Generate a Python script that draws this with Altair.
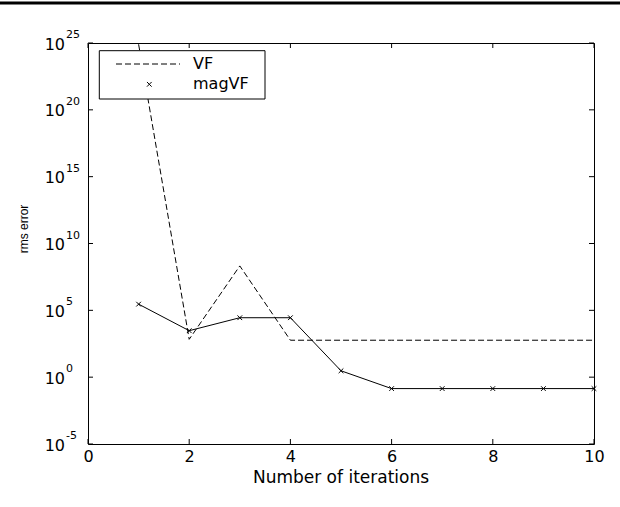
import altair as alt
import pandas as pd

# ---- data ----
iterations = [1, 2, 3, 4, 5, 6, 7, 8, 9, 10]
vf_error = [8e24, 6.8e2, 2.1e8, 5.8e2, 5.8e2, 5.8e2, 5.8e2, 5.8e2, 5.8e2, 5.8e2]
magvf_error = [2.9e5, 3.0e3, 2.8e4, 2.8e4, 3.0, 0.14, 0.14, 0.14, 0.14, 0.14]
x_ticks = [0, 2, 4, 6, 8, 10]
y_ticks = [1e-5, 1e0, 1e5, 1e10, 1e15, 1e20, 1e25]
y_exponents = ["-5", "0", "5", "10", "15", "20", "25"]
series_names = ["VF", "magVF"]
x_title = "Number of iterations"
y_title = "rms error"

W, H = 506, 401
FONT = "DejaVu Sans"

xs = alt.Scale(domain=[0, 10], nice=False, zero=False)
ys = alt.Scale(type="log", domain=[1e-5, 1e25], nice=False)

X = alt.X("x:Q", scale=xs, axis=alt.Axis(values=x_ticks, domain=False, ticks=False, grid=False,
                                          labelFont=FONT, labelFontSize=16, labelColor="black",
                                          labelPadding=4, labelFlush=False, labelOverlap=False,
                                          title=None))
Y = alt.Y("y:Q", scale=ys, axis=None)

vf_df = pd.DataFrame({"x": iterations, "y": vf_error})
mag_df = pd.DataFrame({"x": iterations, "y": magvf_error})
xt_df = pd.DataFrame({"x": x_ticks})
yt_df = pd.DataFrame({"y": y_ticks, "exp": y_exponents, "base": ["10"] * len(y_ticks)})
one = pd.DataFrame({"a": [0]})

XSHAPE = "M-1,-1L1,1M-1,1L1,-1"

vf_line = alt.Chart(vf_df).mark_line(color="black", strokeWidth=1, strokeDash=[6, 3]).encode(X, Y)
mag_line = alt.Chart(mag_df).mark_line(color="black", strokeWidth=1).encode(X, Y)
mag_pts = alt.Chart(mag_df).mark_point(shape=XSHAPE, size=22, filled=False, color="black",
                                       strokeWidth=1, opacity=1).encode(X, Y)

tick_b = alt.Chart(xt_df).mark_rule(color="black", strokeWidth=1).encode(
    X, y=alt.value(H), y2=alt.value(H - 5))
tick_t = alt.Chart(xt_df).mark_rule(color="black", strokeWidth=1).encode(
    X, y=alt.value(0), y2=alt.value(5))
tick_l = alt.Chart(yt_df).mark_rule(color="black", strokeWidth=1).encode(
    Y, x=alt.value(0), x2=alt.value(5))
tick_r = alt.Chart(yt_df).mark_rule(color="black", strokeWidth=1).encode(
    Y, x=alt.value(W), x2=alt.value(W - 5))

ylab = alt.Chart(yt_df).mark_text(align="right", baseline="alphabetic", dy=6.5, font=FONT,
                                  fontSize=16, color="black").encode(
    Y, x=alt.value(-23), text="base:N")
yexp = alt.Chart(yt_df).mark_text(align="left", baseline="alphabetic", dy=-5, font=FONT,
                                  fontSize=11, color="black").encode(
    Y, x=alt.value(-22), text="exp:N")

# legend
box = alt.Chart(one).mark_rect(fill="white", stroke="black", strokeWidth=1).encode(
    x=alt.value(11.3), x2=alt.value(177), y=alt.value(7.7), y2=alt.value(56))
leg_line = alt.Chart(one).mark_rule(color="black", strokeWidth=1, strokeDash=[6, 3]).encode(
    x=alt.value(28), x2=alt.value(92), y=alt.value(21))
leg_pt = alt.Chart(one).mark_point(shape=XSHAPE, size=22, filled=False, color="black",
                                   strokeWidth=1, opacity=1).encode(
    x=alt.value(61.3), y=alt.value(41.3))
leg_t1 = alt.Chart(one).mark_text(align="left", baseline="middle", font=FONT, fontSize=16,
                                  color="black").encode(
    x=alt.value(105), y=alt.value(21), text=alt.value(series_names[0]))
leg_t2 = alt.Chart(one).mark_text(align="left", baseline="middle", font=FONT, fontSize=16,
                                  color="black").encode(
    x=alt.value(105), y=alt.value(41.3), text=alt.value(series_names[1]))

xt = alt.Chart(one).mark_text(align="center", baseline="alphabetic", font=FONT, fontSize=17,
                              color="black").encode(
    x=alt.value(W / 2), y=alt.value(440), text=alt.value(x_title))
yt = alt.Chart(one).mark_text(align="center", baseline="middle", angle=270,
                              font="Liberation Sans", fontSize=12, color="black").encode(
    x=alt.value(-64.5), y=alt.value(186), text=alt.value(y_title))

top_bar = alt.Chart(one).mark_rule(color="black", strokeWidth=3).encode(
    x=alt.value(-88), x2=alt.value(532), y=alt.value(-40))

chart = alt.layer(
    tick_b, tick_t, tick_l, tick_r, vf_line, mag_line, mag_pts,
    box, leg_line, leg_pt, leg_t1, leg_t2, ylab, yexp, xt, yt, top_bar
).properties(
    width=W, height=H,
    padding={"left": 88, "top": 43, "right": 26, "bottom": 63},
    autosize=alt.AutoSizeParams(type="none"),
    background="white",
).configure_view(stroke="black", strokeWidth=1)

chart.save("out.html", embed_options={"renderer": "svg", "actions": False})
